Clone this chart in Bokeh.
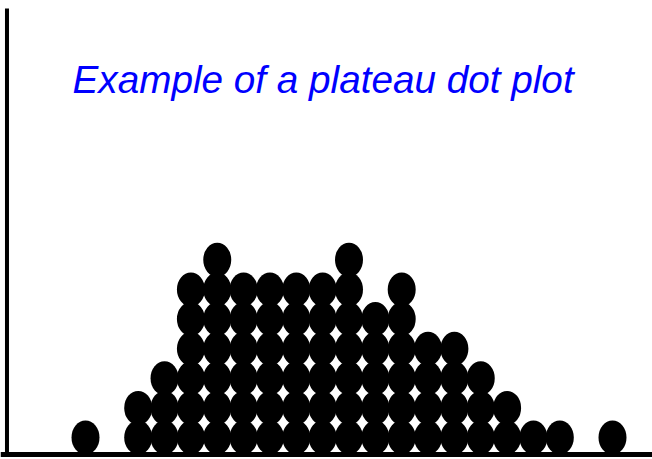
from bokeh.plotting import figure
from bokeh.models import Range1d, Label, Span, ColumnDataSource
from bokeh.embed import file_html
from bokeh.resources import INLINE

# Bin positions along the measurement axis and how many dots sit in each bin
bins = list(range(1, 22))
counts = [1, 0, 2, 3, 6, 7, 6, 6, 6, 6, 7, 5, 6, 4, 4, 3, 2, 1, 1, 0, 1]
title_text = "Example of a plateau dot plot"

# One dot per observation, stacked upward in each bin
xs, ys = [], []
for b, c in zip(bins, counts):
    for k in range(1, c + 1):
        xs.append(b)
        ys.append(k)
src = ColumnDataSource(data=dict(x=xs, y=ys))

p = figure(width=652, height=459, output_backend="svg", toolbar_location=None,
           x_range=Range1d(-2.226, 22.518), y_range=Range1d(0.257, 15.76),
           min_border=0, outline_line_color=None)
p.axis.visible = False
p.grid.visible = False
p.background_fill_color = "white"
p.border_fill_color = "white"

p.ellipse(x="x", y="y", width=28, height=34, width_units="screen",
          height_units="screen", source=src, fill_color="black",
          line_color="black", line_width=0)

# Plain axis lines along the left and bottom
p.segment(x0=[-1.98], y0=[0.426], x1=[-1.98], y1=[15.49],
          line_color="black", line_width=4)
p.add_layout(Span(location=0.426, dimension="width", line_color="black", line_width=5))

p.add_layout(Label(x=72, y=380, x_units="screen", y_units="screen",
                   text=title_text, text_color="#0000FF",
                   text_font="Liberation Sans", text_font_style="italic",
                   text_font_size="38.7px", text_baseline="alphabetic"))

open("out.html", "w").write(file_html(p, INLINE))
